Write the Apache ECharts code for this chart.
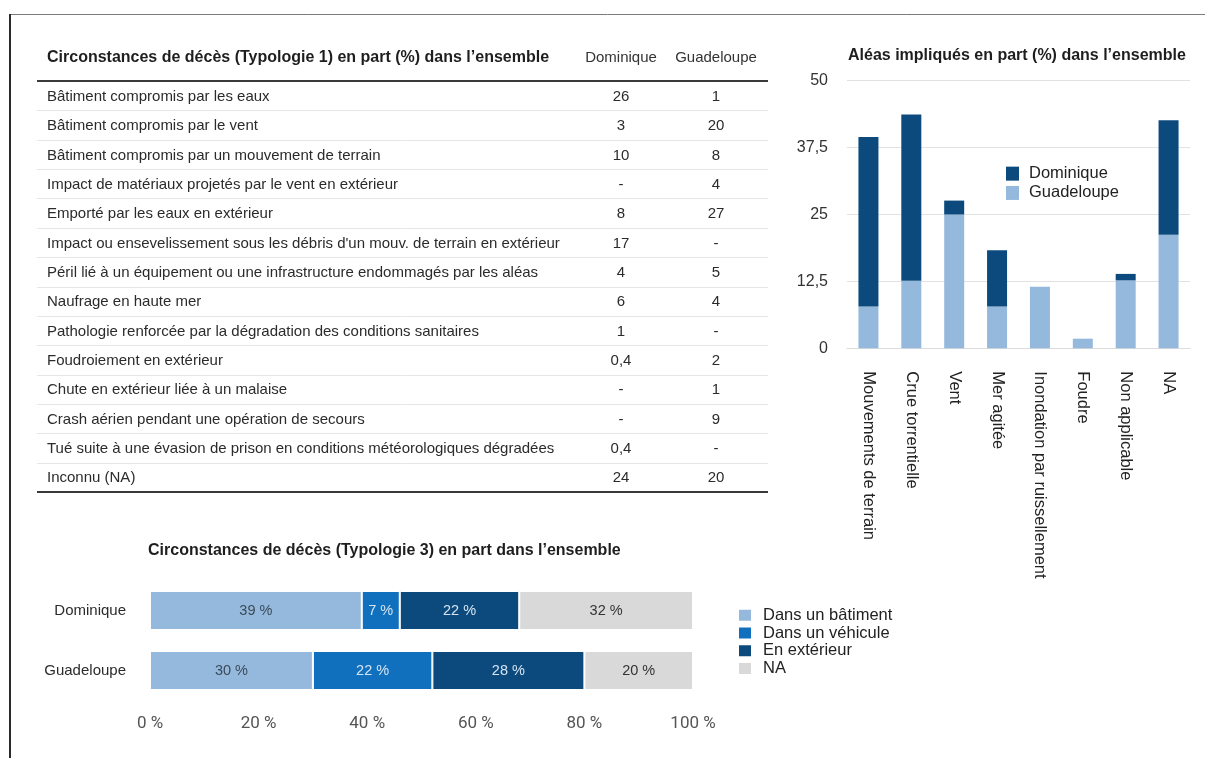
<!DOCTYPE html>
<html lang="fr">
<head>
<meta charset="utf-8">
<title>Circonstances de décès et aléas impliqués</title>
<script src="https://cdn.jsdelivr.net/npm/echarts@6/dist/echarts.min.js"></script>
<style>
  html, body { margin: 0; padding: 0; background: #fff; }
  #chart { width: 1205px; height: 758px; }
</style>
</head>
<body>
<div id="chart"></div>
<script>
// ---- Tableau : circonstances de décès (typologie 1), part en % ----
const tableTitle = "Circonstances de décès (Typologie 1) en part (%) dans l’ensemble";
const tableColumns = ['Dominique', 'Guadeloupe'];
const tableRows = [
  'Bâtiment compromis par les eaux',
  'Bâtiment compromis par le vent',
  'Bâtiment compromis par un mouvement de terrain',
  'Impact de matériaux projetés par le vent en extérieur',
  'Emporté par les eaux en extérieur',
  "Impact ou ensevelissement sous les débris d'un mouv. de terrain en extérieur",
  'Péril lié à un équipement ou une infrastructure endommagés par les aléas',
  'Naufrage en haute mer',
  'Pathologie renforcée par la dégradation des conditions sanitaires',
  'Foudroiement en extérieur',
  'Chute en extérieur liée à un malaise',
  'Crash aérien pendant une opération de secours',
  'Tué suite à une évasion de prison en conditions météorologiques dégradées',
  'Inconnu (NA)'
];
const tableDominique  = [26, 3, 10, null, 8, 17, 4, 6, 1, 0.4, null, null, 0.4, 24];
const tableGuadeloupe = [1, 20, 8, 4, 27, null, 5, 4, null, 2, 1, 9, null, 20];

// ---- Aléas impliqués, part en % (barres empilées) ----
const aleasTitle = "Aléas impliqués en part (%) dans l’ensemble";
const aleasCategories = ['Mouvements de terrain', 'Crue torrentielle', 'Vent', 'Mer agitée',
  'Inondation par ruissellement', 'Foudre', 'Non applicable', 'NA'];
const aleasGuadeloupe = [7.8, 12.6, 25, 7.8, 11.5, 1.8, 12.7, 21.2];
const aleasDominique  = [31.7, 31.1, 2.6, 10.5, 0, 0, 1.2, 21.4];
const aleasTicks = [0, 12.5, 25, 37.5, 50];

// ---- Circonstances de décès (typologie 3), part en % ----
const typo3Title = "Circonstances de décès (Typologie 3) en part dans l’ensemble";
const typo3Territories = ['Dominique', 'Guadeloupe'];
const typo3Batiment  = [39, 30];
const typo3Vehicule  = [7, 22];
const typo3Exterieur = [22, 28];
const typo3NA        = [32, 20];
const typo3Ticks = [0, 20, 40, 60, 80, 100];

const FONT = '"Liberation Sans", Arial, Helvetica, sans-serif';
const C_DARK = '#0c4a7d';
const C_LIGHT = '#95b9dc';
const C_MID = '#1070bd';
const C_GREY = '#d9d9d9';

const fmtNum = v => (v === null ? '-' : String(v).replace('.', ','));

// Table layout
const T = { left: 37, right: 768, textX: 47, col1: 621, col2: 716, headY: 58, top: 81, bottom: 492 };
const rowH = (T.bottom - T.top) / tableRows.length;

function tableGraphics() {
  const els = [];
  const txt = (text, x, y, opt) => ({
    type: 'text', silent: true,
    style: Object.assign({ text, x, y, fill: '#2b2b2b', fontSize: 15, fontFamily: FONT,
      textAlign: 'left', textVerticalAlign: 'middle' }, opt || {})
  });
  const line = (y, color, w) => ({
    type: 'line', silent: true,
    shape: { x1: T.left, y1: y, x2: T.right, y2: y },
    style: { stroke: color, lineWidth: w }
  });
  els.push(txt(tableTitle, T.textX, T.headY, { fontSize: 16, fontWeight: 'bold', fill: '#1e1e1e' }));
  els.push(txt(tableColumns[0], T.col1, T.headY, { textAlign: 'center', fill: '#333' }));
  els.push(txt(tableColumns[1], T.col2, T.headY, { textAlign: 'center', fill: '#333' }));
  tableRows.forEach((label, i) => {
    const yc = T.top + rowH * (i + 0.5) + 1;
    els.push(txt(label, T.textX, yc));
    els.push(txt(fmtNum(tableDominique[i]), T.col1, yc, { textAlign: 'center' }));
    els.push(txt(fmtNum(tableGuadeloupe[i]), T.col2, yc, { textAlign: 'center' }));
    if (i > 0) els.push(line(Math.round(T.top + rowH * i) + 0.5, '#e6e6e6', 1));
  });
  els.push(line(T.top, '#3a3a3a', 2));
  els.push(line(T.bottom, '#3a3a3a', 2));
  // frame
  els.push({ type: 'line', silent: true, shape: { x1: 10, y1: 14.5, x2: 1205, y2: 14.5 },
    style: { stroke: '#7a7a7a', lineWidth: 1 } });
  els.push({ type: 'line', silent: true, shape: { x1: 10, y1: 14, x2: 10, y2: 758 },
    style: { stroke: '#2a2a2a', lineWidth: 2 } });
  return els;
}

const segLabel = color => ({
  show: true, position: 'inside', color, fontSize: 14.5, fontFamily: FONT,
  formatter: p => p.value + ' %'
});

const chart = echarts.init(document.getElementById('chart'), null, { renderer: 'canvas' });
chart.setOption({
  animation: false,
  backgroundColor: '#fff',
  textStyle: { fontFamily: FONT },
  title: [
    { text: aleasTitle, left: 848, top: 46, padding: 0,
      textStyle: { fontSize: 16, fontWeight: 'bold', color: '#1e1e1e', lineHeight: 20 } },
    { text: typo3Title, left: 148, top: 541, padding: 0,
      textStyle: { fontSize: 16, fontWeight: 'bold', color: '#1e1e1e', lineHeight: 20 } }
  ],
  legend: [
    { data: ['Dominique', 'Guadeloupe'], orient: 'vertical', left: 1006, top: 164,
      itemWidth: 13, itemHeight: 14, itemGap: 0, selectedMode: false, icon: 'rect', padding: 0,
      textStyle: { fontSize: 16.5, color: '#222', lineHeight: 19.3, padding: [0, 0, 0, 5] } },
    { data: ['Dans un bâtiment', 'Dans un véhicule', 'En extérieur', 'NA'], orient: 'vertical',
      left: 737, top: 606.5, itemWidth: 14, itemHeight: 13, itemGap: 0, selectedMode: false,
      icon: 'rect', padding: 0,
      textStyle: { fontSize: 16.5, color: '#222', lineHeight: 17.7, padding: [0, 0, 0, 6] } }
  ],
  grid: [
    { left: 847, right: 15, top: 80.7, bottom: 409.7, containLabel: false },
    { left: 150, right: 512, top: 580.5, bottom: 57.5, containLabel: false }
  ],
  xAxis: [
    { type: 'category', gridIndex: 0, data: aleasCategories,
      axisTick: { show: false },
      axisLine: { lineStyle: { color: '#dcdcdc' } },
      axisLabel: { rotate: -90, interval: 0, margin: 23, fontSize: 16.5, color: '#222' } },
    { type: 'value', gridIndex: 1, min: typo3Ticks[0], max: typo3Ticks[typo3Ticks.length - 1],
      interval: typo3Ticks[1] - typo3Ticks[0],
      axisLine: { show: false }, axisTick: { show: false }, splitLine: { show: false },
      axisLabel: { margin: 15, fontSize: 17, fontFamily: 'Roboto, sans-serif', color: '#555',
        formatter: v => v + ' %' } }
  ],
  yAxis: [
    { type: 'value', gridIndex: 0, min: aleasTicks[0], max: aleasTicks[aleasTicks.length - 1],
      interval: aleasTicks[1] - aleasTicks[0],
      axisLine: { show: false }, axisTick: { show: false },
      splitLine: { lineStyle: { color: '#e2e2e2' } },
      axisLabel: { margin: 19, fontSize: 16, color: '#333', formatter: v => String(v).replace('.', ',') } },
    { type: 'category', gridIndex: 1, data: typo3Territories, inverse: true,
      axisLine: { show: false }, axisTick: { show: false },
      axisLabel: { margin: 24, fontSize: 15, color: '#2b2b2b' } }
  ],
  series: [
    { name: 'Guadeloupe', type: 'bar', stack: 'aleas', xAxisIndex: 0, yAxisIndex: 0,
      barWidth: 20, data: aleasGuadeloupe, itemStyle: { color: C_LIGHT } },
    { name: 'Dominique', type: 'bar', stack: 'aleas', xAxisIndex: 0, yAxisIndex: 0,
      barWidth: 20, data: aleasDominique, itemStyle: { color: C_DARK } },

    { name: 'Dans un bâtiment', type: 'bar', stack: 'typo3', xAxisIndex: 1, yAxisIndex: 1,
      barWidth: 39, data: typo3Batiment,
      itemStyle: { color: C_LIGHT, borderColor: '#fff', borderWidth: 1 }, label: segLabel('#3b4a59') },
    { name: 'Dans un véhicule', type: 'bar', stack: 'typo3', xAxisIndex: 1, yAxisIndex: 1,
      barWidth: 39, data: typo3Vehicule,
      itemStyle: { color: C_MID, borderColor: '#fff', borderWidth: 1 }, label: segLabel('#d5e4f2') },
    { name: 'En extérieur', type: 'bar', stack: 'typo3', xAxisIndex: 1, yAxisIndex: 1,
      barWidth: 39, data: typo3Exterieur,
      itemStyle: { color: C_DARK, borderColor: '#fff', borderWidth: 1 }, label: segLabel('#d5e4f2') },
    { name: 'NA', type: 'bar', stack: 'typo3', xAxisIndex: 1, yAxisIndex: 1,
      barWidth: 39, data: typo3NA,
      itemStyle: { color: C_GREY, borderColor: '#fff', borderWidth: 1 }, label: segLabel('#333') }
  ],
  graphic: tableGraphics()
});
</script>
</body>
</html>
